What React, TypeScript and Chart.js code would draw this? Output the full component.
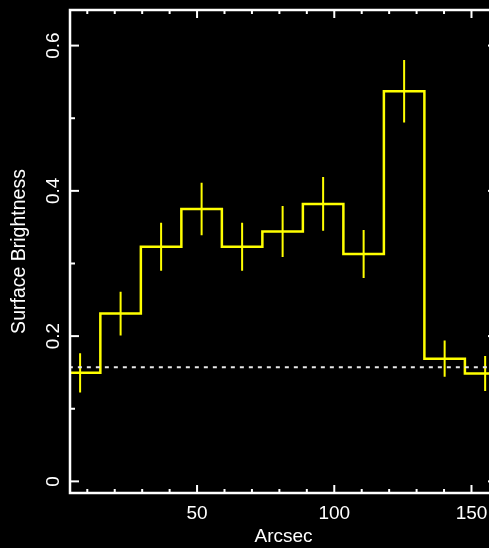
import React, { useEffect, useRef } from "react";
import { Chart, registerables } from "chart.js";

Chart.register(...registerables);

// ---- data ----
const binCenters = [7.38, 22.14, 36.9, 51.66, 66.42, 81.18, 95.94, 110.7, 125.46, 140.22, 154.98];
const binHalfWidth = 7.38;
const surfaceBrightness = [0.1495, 0.231, 0.323, 0.375, 0.323, 0.344, 0.382, 0.313, 0.537, 0.169, 0.1485];
const brightnessErrors = [0.027, 0.03, 0.033, 0.036, 0.033, 0.035, 0.037, 0.033, 0.043, 0.025, 0.024];
const backgroundLevel = 0.157;
const xRange = [3.7, 159.3];
const yRange = [-0.016, 0.649];
const xMajorStep = 50;
const xMinorStep = 10;
const yMajorStep = 0.2;
const yMinorStep = 0.1;
const xTitle = "Arcsec";
const yTitle = "Surface Brightness";

const FONT = "'Liberation Sans', Arial, Helvetica, sans-serif";
const YELLOW = "#ffff00";

const isMultiple = (v: number, step: number) => Math.abs(v / step - Math.round(v / step)) < 1e-6;

const frameTicksPlugin = {
  id: "frameTicks",
  afterDraw(chart: any) {
    const { ctx, chartArea } = chart;
    const { left, right, top, bottom } = chartArea;
    const xs = chart.scales.x;
    const ys = chart.scales.y;
    ctx.save();
    ctx.strokeStyle = "#ffffff";
    ctx.lineWidth = 2;
    const seg = (x1: number, y1: number, x2: number, y2: number) => {
      ctx.beginPath();
      ctx.moveTo(x1, y1);
      ctx.lineTo(x2, y2);
      ctx.stroke();
    };
    xs.ticks.forEach((t: any) => {
      const px = xs.getPixelForValue(t.value);
      const len = isMultiple(t.value, xMajorStep) ? 8 : 4;
      seg(px, bottom, px, bottom - len);
      seg(px, top, px, top + len);
    });
    ys.ticks.forEach((t: any) => {
      const py = ys.getPixelForValue(t.value);
      const len = isMultiple(t.value, yMajorStep) ? 9 : 5;
      seg(left, py, left + len, py);
      seg(right, py, right - len, py);
    });
    ctx.lineWidth = 2.5;
    ctx.strokeRect(left, top, right - left, bottom - top);
    ctx.restore();
  },
};

export default function App() {
  const canvasRef = useRef<HTMLCanvasElement | null>(null);

  useEffect(() => {
    document.body.style.margin = "0";
    document.body.style.background = "#000";
    const canvas = canvasRef.current;
    if (!canvas) return;

    const histogram = binCenters.map((c, i) => ({ x: c - binHalfWidth, y: surfaceBrightness[i] }));
    histogram.push({
      x: binCenters[binCenters.length - 1] + binHalfWidth,
      y: surfaceBrightness[surfaceBrightness.length - 1],
    });

    const errorBars: any[] = [];
    binCenters.forEach((c, i) => {
      errorBars.push({ x: c, y: surfaceBrightness[i] - brightnessErrors[i] });
      errorBars.push({ x: c, y: surfaceBrightness[i] + brightnessErrors[i] });
      errorBars.push({ x: c, y: null });
    });

    const bgLine = [
      { x: 0, y: backgroundLevel },
      { x: 170, y: backgroundLevel },
    ];

    const chart = new Chart(canvas, {
      type: "line",
      data: {
        datasets: [
          {
            data: bgLine,
            borderColor: "#e8e8e8",
            borderWidth: 2,
            borderDash: [4, 5],
            pointRadius: 0,
          },
          {
            data: histogram,
            stepped: "before",
            borderColor: YELLOW,
            borderWidth: 2.5,
            pointRadius: 0,
          },
          {
            data: errorBars,
            borderColor: YELLOW,
            borderWidth: 2,
            pointRadius: 0,
            spanGaps: false,
          },
        ],
      },
      options: {
        responsive: false,
        animation: false,
        layout: { padding: { left: 8, top: 10, right: 13, bottom: 0 } },
        plugins: {
          legend: { display: false },
          tooltip: { enabled: false },
        },
        scales: {
          x: {
            type: "linear",
            position: "bottom",
            min: xRange[0],
            max: xRange[1],
            grid: { display: false },
            border: { display: false },
            ticks: {
              stepSize: xMinorStep,
              includeBounds: false,
              autoSkip: false,
              maxRotation: 0,
              minRotation: 0,
              padding: 1,
              color: "#ffffff",
              font: { family: FONT, size: 19 },
              callback: (v: any) => (isMultiple(Number(v), xMajorStep) ? String(Math.round(Number(v))) : ""),
            },
            title: {
              display: true,
              text: xTitle,
              color: "#ffffff",
              font: { family: FONT, size: 19 },
              padding: { top: 0, bottom: 0 },
            },
            afterFit: (scale: any) => {
              scale.height = 55;
            },
          },
          y: {
            type: "linear",
            position: "left",
            min: yRange[0],
            max: yRange[1],
            grid: { display: false },
            border: { display: false },
            ticks: {
              stepSize: yMinorStep,
              includeBounds: false,
              autoSkip: false,
              minRotation: 90,
              maxRotation: 90,
              crossAlign: "center",
              padding: -5,
              color: "#ffffff",
              font: { family: FONT, size: 19 },
              callback: (v: any) => (isMultiple(Number(v), yMajorStep) ? String(Number(Number(v).toFixed(1))) : ""),
            },
            title: {
              display: true,
              text: yTitle,
              color: "#ffffff",
              font: { family: FONT, size: 19.5 },
              padding: { top: 0, bottom: 0 },
            },
            afterFit: (scale: any) => {
              scale.width = 62;
            },
          },
        },
      },
      plugins: [frameTicksPlugin],
    });

    return () => chart.destroy();
  }, []);

  return (
    <div
      style={{
        position: "fixed",
        left: 0,
        top: 0,
        width: 489,
        height: 548,
        overflow: "hidden",
        background: "#000",
      }}
    >
      <canvas ref={canvasRef} width={510} height={548} style={{ display: "block", background: "#000" }} />
    </div>
  );
}
